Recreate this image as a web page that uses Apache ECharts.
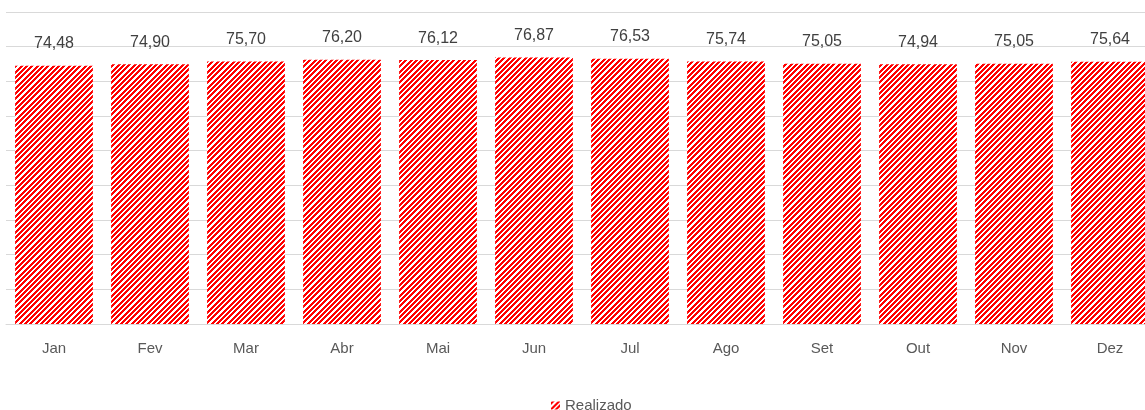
<!DOCTYPE html>
<html>
<head>
<meta charset="utf-8">
<script src="https://cdn.jsdelivr.net/npm/echarts@6/dist/echarts.min.js"></script>
<style>
html,body{margin:0;padding:0;background:#fff;overflow:hidden;}
#chart{width:1158px;height:410px;}
</style>
</head>
<body>
<div id="chart"></div>
<script>
var categories = ['Jan','Fev','Mar','Abr','Mai','Jun','Jul','Ago','Set','Out','Nov','Dez'];
var realizado = [74.48, 74.90, 75.70, 76.20, 76.12, 76.87, 76.53, 75.74, 75.05, 74.94, 75.05, 75.64];
var seriesName = 'Realizado';

function makePattern() {
  var T = 16;
  var c = document.createElement('canvas');
  c.width = T; c.height = T;
  var ctx = c.getContext('2d');
  var img = ctx.createImageData(T, T);
  for (var y = 0; y < T; y++) {
    for (var x = 0; x < T; x++) {
      var f = ((x + y) * 3 / T) % 1;
      var red = f < 0.55;
      var i = (y * T + x) * 4;
      img.data[i] = 255;
      img.data[i+1] = red ? 0 : 255;
      img.data[i+2] = red ? 0 : 255;
      img.data[i+3] = 255;
    }
  }
  ctx.putImageData(img, 0, 0);
  return c;
}
var pattern = { image: makePattern(), repeat: 'repeat' };

var chart = echarts.init(document.getElementById('chart'), null, {renderer: 'canvas', devicePixelRatio: 1});
chart.setOption({
  animation: false,
  backgroundColor: '#ffffff',
  grid: { left: 6, right: 0, top: 12, bottom: 86, containLabel: false },
  legend: {
    data: [seriesName],
    left: 546,
    top: 393,
    itemWidth: 9,
    itemHeight: 8,
    icon: 'rect',
    textStyle: { fontFamily: 'Liberation Sans', fontSize: 15, color: '#595959' }
  },
  xAxis: {
    type: 'category',
    data: categories,
    axisTick: { show: false },
    axisLine: { show: true, lineStyle: { color: '#D9D9D9', width: 1 } },
    axisLabel: { margin: 17, fontFamily: 'Liberation Sans', fontSize: 15, color: '#595959' }
  },
  yAxis: {
    type: 'value',
    min: 0, max: 90, interval: 10,
    axisLabel: { show: false },
    axisLine: { show: false },
    axisTick: { show: false },
    splitLine: { show: true, lineStyle: { color: '#D9D9D9', width: 1 } }
  },
  series: [{
    name: seriesName,
    type: 'bar',
    data: realizado,
    barCategoryGap: '19%',
    itemStyle: { color: pattern },
    label: {
      show: true,
      position: 'top',
      distance: 14,
      fontFamily: 'Liberation Sans',
      fontSize: 16,
      color: '#404040',
      formatter: function (p) { return p.value.toFixed(2).replace('.', ','); }
    }
  }]
});
</script>
</body>
</html>
